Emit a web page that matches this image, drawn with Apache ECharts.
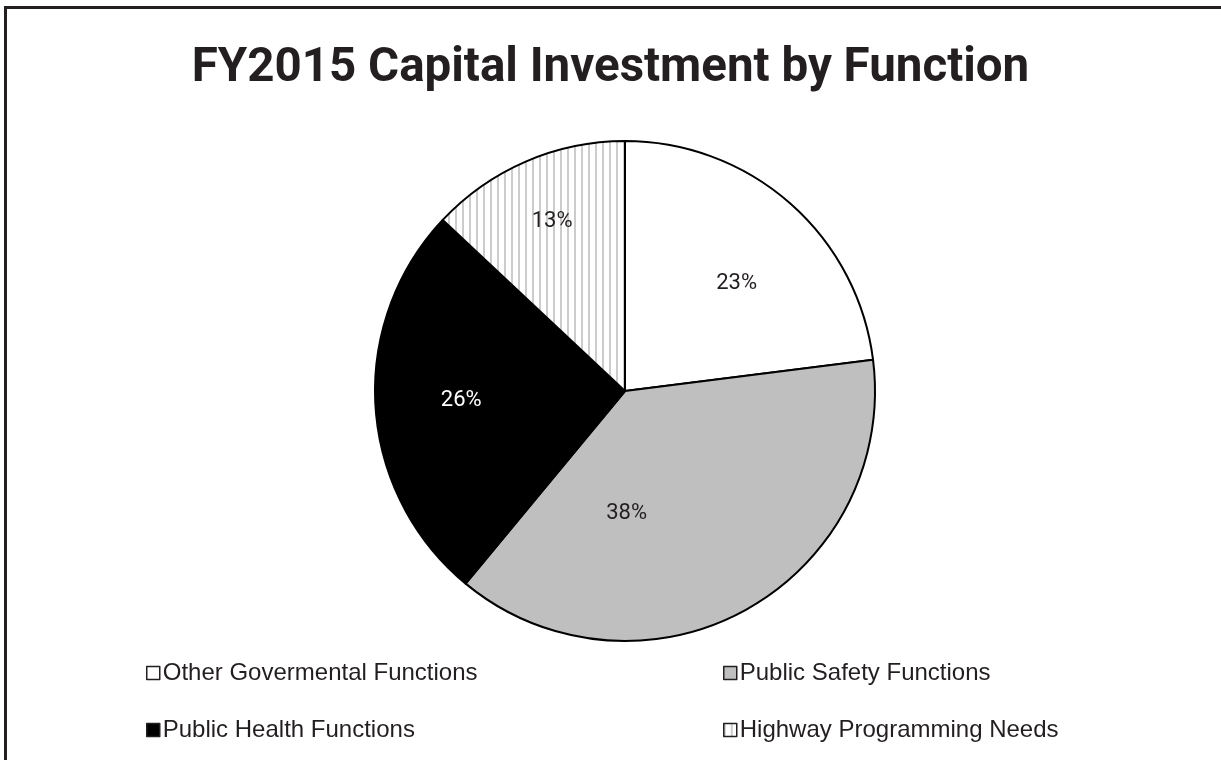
<!DOCTYPE html>
<html>
<head>
<meta charset="utf-8">
<script src="https://cdn.jsdelivr.net/npm/echarts@6/dist/echarts.min.js"></script>
<style>
  html, body { margin: 0; padding: 0; background: #fff; }
  #chart { width: 1221px; height: 760px; }
</style>
</head>
<body>
<div id="chart"></div>
<script>
// Share of FY2015 capital investment, by function (percent)
const categories = [
  'Other Govermental Functions',
  'Public Safety Functions',
  'Public Health Functions',
  'Highway Programming Needs'
];
const shares = [23, 38, 26, 13];

// Slice appearance
const sliceColors = ['#ffffff', '#bfbfbf', '#000000', null];
const labelColors = ['#231f20', '#231f20', '#ffffff', '#231f20'];
const labelOffsets = [[27, -11], [-60, 10], [-36, 1], [-22, -52]];

// Vertical hatch used for the highway slice
function stripePattern() {
  const c = document.createElement('canvas');
  c.width = 7; c.height = 7;
  const ctx = c.getContext('2d');
  ctx.fillStyle = '#ffffff';
  ctx.fillRect(0, 0, 7, 7);
  ctx.fillStyle = '#cccccc';
  ctx.fillRect(0, 0, 2, 7);
  return c;
}
const stripes = { image: stripePattern(), repeat: 'repeat' };

const pieData = categories.map((name, i) => ({
  name,
  value: shares[i],
  itemStyle: { color: sliceColors[i] || stripes },
  label: { color: labelColors[i], offset: labelOffsets[i] }
}));

const legendText = {
  fontFamily: 'Liberation Sans, Arial, sans-serif',
  fontSize: 24,
  color: '#231f20',
  lineHeight: 24,
  padding: [0, 0, 0, -2]
};

function columnLegend(left, names) {
  return {
    orient: 'vertical',
    left,
    top: 656,
    itemWidth: 13,
    itemHeight: 13,
    itemGap: 33,
    icon: 'rect',
    selectedMode: false,
    data: names,
    itemStyle: { borderColor: '#231f20', borderWidth: 1.5 },
    textStyle: legendText
  };
}

const chart = echarts.init(document.getElementById('chart'), null, { renderer: 'canvas' });
chart.setOption({
  backgroundColor: '#ffffff',
  animation: false,
  title: {
    text: 'FY2015 Capital Investment by Function',
    left: 'center',
    top: 40,
    textStyle: {
      fontFamily: 'Roboto, sans-serif',
      fontWeight: 'bold',
      fontSize: 47.5,
      color: '#231f20'
    }
  },
  legend: [
    columnLegend(141, [categories[0], categories[2]]),
    columnLegend(718, [categories[1], categories[3]])
  ],
  graphic: [
    {
      type: 'rect',
      shape: { x: 5.5, y: 7.5, width: 1400, height: 1000 },
      style: { fill: 'none', stroke: '#231f20', lineWidth: 3 },
      silent: true
    }
  ],
  series: [
    {
      type: 'pie',
      center: [625, 391],
      radius: [0, 250],
      startAngle: 90,
      clockwise: true,
      avoidLabelOverlap: false,
      itemStyle: { borderColor: '#000000', borderWidth: 2 },
      label: {
        show: true,
        position: 'inside',
        formatter: '{c}%',
        fontFamily: 'Roboto, sans-serif',
        fontSize: 22
      },
      labelLine: { show: false },
      emphasis: { disabled: true },
      data: pieData
    }
  ]
});
</script>
</body>
</html>
